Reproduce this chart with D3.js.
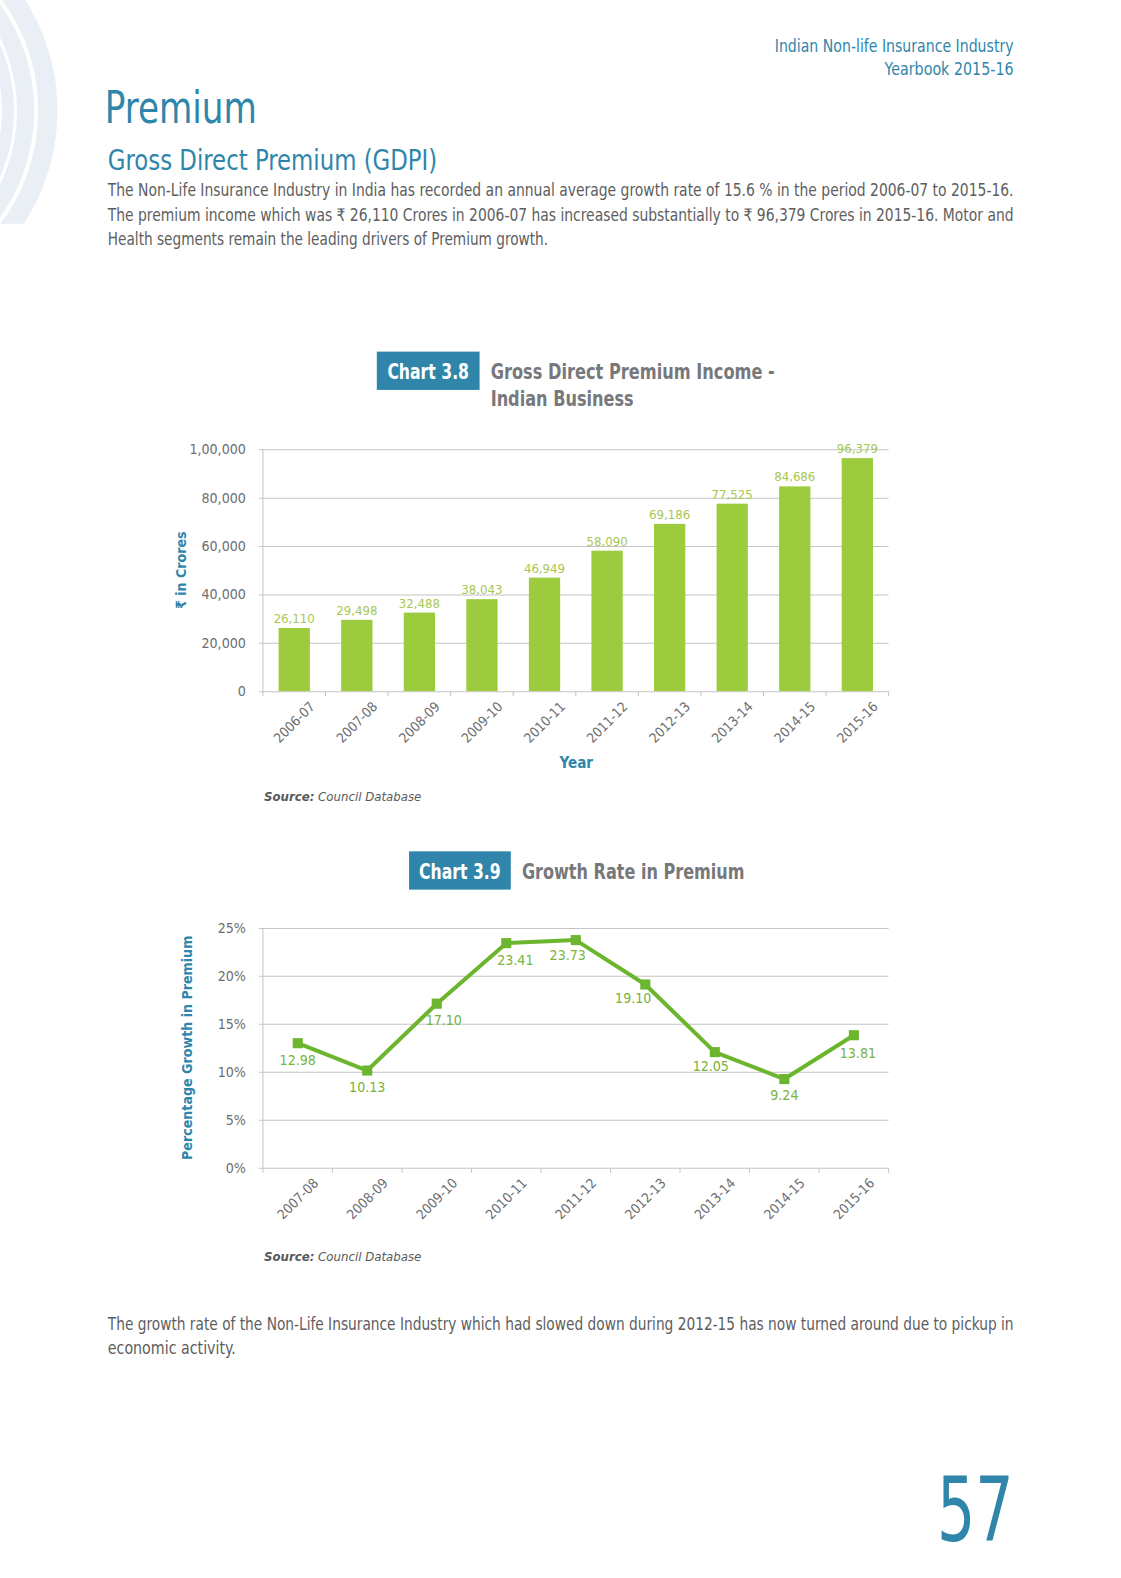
<!DOCTYPE html>
<html>
<head>
<meta charset="utf-8">
<script src="https://cdn.jsdelivr.net/npm/d3@7"></script>
<style>
  html, body { margin: 0; padding: 0; background: #fff; overflow: hidden; }
  svg { display: block; }
  svg text { font-family: 'Liberation Sans Narrow', 'DejaVu Sans Condensed', 'Liberation Sans', sans-serif; font-stretch: condensed; }
</style>
</head>
<body>
<script>
// page size
var w = 1121;
var h = 1578;

// chart 3.8 data
var years = ["2006-07", "2007-08", "2008-09", "2009-10", "2010-11", "2011-12", "2012-13", "2013-14", "2014-15", "2015-16"];
var premium = [26110, 29498, 32488, 38043, 46949, 58090, 69186, 77525, 84686, 96379];
var premiumTicks = [0, 20000, 40000, 60000, 80000, 100000];

// chart 3.9 data
var growthYears = ["2007-08", "2008-09", "2009-10", "2010-11", "2011-12", "2012-13", "2013-14", "2014-15", "2015-16"];
var growth = [12.98, 10.13, 17.10, 23.41, 23.73, 19.10, 12.05, 9.24, 13.81];
var growthTicks = [0, 5, 10, 15, 20, 25];

// label nudges for the growth values (dx, dy from the point)
var growthLabelShift = [[0, 22], [0, 21], [7, 21], [9, 22], [-8, 20], [-12, 18], [-4, 19], [0, 21], [4, 23]];

var teal = "#2f86aa";
var grey = "#5d5e60";
var gridGrey = "#c4c4c4";
var barGreen = "#9ccb3d";
var barLabel = "#a6c84f";
var lineGreen = "#6cb52f";
var lineLabel = "#78b33c";

var svgRoot = d3.select("body")
            .append("svg")
            .attr("width", w)
            .attr("height", h);
// layout was measured on a slightly smaller copy of the page
var svg = svgRoot.append("g").attr("transform", "scale(1.0075)");

// decorative rings top left
var deco = svg.append("g");
deco.append("clipPath").attr("id", "decoClip")
    .append("rect").attr("x", 0).attr("y", 0).attr("width", 80).attr("height", 222);
var rings = [[195.5, 19], [173.5, 17], [156, 12]];
deco.selectAll("circle")
    .data(rings)
    .enter()
    .append("circle")
    .attr("cx", -148)
    .attr("cy", 110)
    .attr("r", function(d) { return d[0]; })
    .attr("fill", "none")
    .attr("stroke", "#e9eff5")
    .attr("stroke-width", function(d) { return d[1]; })
    .attr("clip-path", "url(#decoClip)");

// header
function txt(x, y, s, size, color, opts) {
    opts = opts || {};
    var t = svg.append("text")
        .attr("x", x)
        .attr("y", y)
        .attr("font-size", size)
        .attr("fill", color)
        .attr("text-anchor", opts.anchor || "start")
        .attr("font-weight", opts.weight || "normal")
        .text(s);
    if (opts.len) {
        t.attr("textLength", opts.len).attr("lengthAdjust", "spacingAndGlyphs");
    }
    return t;
}

txt(1006, 52, "Indian Non-life Insurance Industry", 17, teal, {anchor: "end", len: 237});
txt(1006, 74, "Yearbook 2015-16", 17, teal, {anchor: "end", len: 128});
txt(104, 122, "Premium", 44, teal, {len: 151});
txt(107, 169, "Gross Direct Premium (GDPI)", 29, teal, {len: 327});

txt(107, 195, "The Non-Life Insurance Industry in India has recorded an annual average growth rate of 15.6 % in the period 2006-07 to 2015-16.", 17, grey, {len: 899});
txt(107, 219, "The premium income which was \u20b9 26,110 Crores in 2006-07 has increased substantially to \u20b9 96,379 Crores in 2015-16. Motor and", 17, grey, {len: 899});
txt(107, 243, "Health segments remain the leading drivers of Premium growth.", 17, grey, {len: 437});

// ---------- Chart 3.8 ----------
svg.append("rect")
   .attr("x", 374).attr("y", 349).attr("width", 102).attr("height", 38)
   .attr("fill", teal);
txt(425, 376, "Chart 3.8", 21, "#fff", {anchor: "middle", weight: "bold", len: 81});
txt(487, 376, "Gross Direct Premium Income -", 21, "#77787b", {weight: "bold", len: 282});
txt(487, 403, "Indian Business", 21, "#77787b", {weight: "bold", len: 142});

var x1 = d3.scaleBand()
           .domain(years)
           .range([261, 882])
           .paddingInner(0.5)
           .paddingOuter(0.25);
var y1 = d3.scaleLinear()
           .domain([0, 100000])
           .range([686, 446]);

function indian(v) {
    var s = String(v);
    if (s.length <= 3) return s;
    var rest = s.slice(0, -3);
    return rest.replace(/\B(?=(\d{2})+(?!\d))/g, ",") + "," + s.slice(-3);
}

var c1 = svg.append("g");
c1.append("g")
  .attr("transform", "translate(261,0)")
  .call(d3.axisLeft(y1).tickValues(premiumTicks).tickSize(-621).tickPadding(17).tickFormat(indian))
  .call(function(g) {
      g.select(".domain").remove();
      g.selectAll(".tick line").attr("stroke", gridGrey).attr("x1", -4);
      g.selectAll(".tick text").attr("fill", "#6d6e71").attr("font-size", 14)
       .style("font-family", "'Liberation Sans Narrow', 'DejaVu Sans Condensed', sans-serif");
  });
c1.append("line")
  .attr("x1", 261).attr("x2", 261).attr("y1", 446).attr("y2", 686)
  .attr("stroke", gridGrey);

// tick marks at band edges
var step1 = x1.step();
c1.selectAll(".edge")
  .data(d3.range(years.length + 1))
  .enter()
  .append("line")
  .attr("x1", function(i) { return 261 + i * step1; })
  .attr("x2", function(i) { return 261 + i * step1; })
  .attr("y1", 686).attr("y2", 691)
  .attr("stroke", gridGrey);

c1.selectAll(".bar")
  .data(premium)
  .enter()
  .append("rect")
  .attr("x", function(d, i) { return x1(years[i]); })
  .attr("y", function(d) { return y1(d); })
  .attr("width", x1.bandwidth())
  .attr("height", function(d) { return 686 - y1(d); })
  .attr("fill", barGreen);

c1.selectAll(".val")
  .data(premium)
  .enter()
  .append("text")
  .text(function(d) { return indian(d); })
  .attr("x", function(d, i) { return x1(years[i]) + x1.bandwidth() / 2; })
  .attr("y", function(d) { return y1(d) - 5; })
  .attr("font-size", 13)
  .attr("fill", barLabel)
  .attr("text-anchor", "middle");

c1.selectAll(".xlab")
  .data(years)
  .enter()
  .append("text")
  .text(function(d) { return d; })
  .attr("transform", function(d) {
      return "translate(" + (x1(d) + x1.bandwidth() / 2 + 14) + ",695) rotate(-45)";
  })
  .attr("font-size", 13.5)
  .attr("fill", "#6d6e71")
  .attr("text-anchor", "end")
  .attr("dominant-baseline", "hanging");

txt(572, 762, "Year", 15, teal, {anchor: "middle", weight: "bold"});
svg.append("text")
   .attr("transform", "translate(185,566) rotate(-90)")
   .attr("text-anchor", "middle")
   .attr("font-size", 14)
   .attr("font-weight", "bold")
   .attr("fill", teal)
   .text("\u20b9 in Crores");

function source(y) {
    var t = svg.append("text")
       .attr("x", 262).attr("y", y)
       .attr("font-size", 13)
       .attr("font-style", "italic")
       .attr("fill", "#58595b");
    t.append("tspan").attr("font-weight", "bold").text("Source:");
    t.append("tspan").text(" Council Database");
}
source(795);

// ---------- Chart 3.9 ----------
svg.append("rect")
   .attr("x", 406).attr("y", 845).attr("width", 101).attr("height", 38)
   .attr("fill", teal);
txt(456.5, 872, "Chart 3.9", 21, "#fff", {anchor: "middle", weight: "bold", len: 81});
txt(518, 872, "Growth Rate in Premium", 21, "#77787b", {weight: "bold", len: 221});

var x2 = d3.scaleBand()
           .domain(growthYears)
           .range([261, 882]);
var y2 = d3.scaleLinear()
           .domain([0, 25])
           .range([1159, 921]);

var c2 = svg.append("g");
c2.append("g")
  .attr("transform", "translate(261,0)")
  .call(d3.axisLeft(y2).tickValues(growthTicks).tickSize(-621).tickPadding(17).tickFormat(function(d) { return d + "%"; }))
  .call(function(g) {
      g.select(".domain").remove();
      g.selectAll(".tick line").attr("stroke", gridGrey).attr("x1", -4);
      g.selectAll(".tick text").attr("fill", "#6d6e71").attr("font-size", 14)
       .style("font-family", "'Liberation Sans Narrow', 'DejaVu Sans Condensed', sans-serif");
  });
c2.append("line")
  .attr("x1", 261).attr("x2", 261).attr("y1", 921).attr("y2", 1159)
  .attr("stroke", gridGrey);

var step2 = x2.step();
c2.selectAll(".edge")
  .data(d3.range(growthYears.length + 1))
  .enter()
  .append("line")
  .attr("x1", function(i) { return 261 + i * step2; })
  .attr("x2", function(i) { return 261 + i * step2; })
  .attr("y1", 1159).attr("y2", 1164)
  .attr("stroke", gridGrey);

var line = d3.line()
  .x(function(d, i) { return x2(growthYears[i]) + x2.bandwidth() / 2; })
  .y(function(d) { return y2(d); });

c2.append("path")
  .datum(growth)
  .attr("d", line)
  .attr("fill", "none")
  .attr("stroke", lineGreen)
  .attr("stroke-width", 4)
  .attr("stroke-linejoin", "round");

c2.selectAll(".pt")
  .data(growth)
  .enter()
  .append("rect")
  .attr("x", function(d, i) { return x2(growthYears[i]) + x2.bandwidth() / 2 - 5; })
  .attr("y", function(d) { return y2(d) - 5; })
  .attr("width", 10)
  .attr("height", 10)
  .attr("fill", lineGreen);

c2.selectAll(".val")
  .data(growth)
  .enter()
  .append("text")
  .text(function(d) { return d.toFixed(2); })
  .attr("x", function(d, i) { return x2(growthYears[i]) + x2.bandwidth() / 2 + growthLabelShift[i][0]; })
  .attr("y", function(d, i) { return y2(d) + growthLabelShift[i][1]; })
  .attr("font-size", 14)
  .attr("fill", lineLabel)
  .attr("text-anchor", "middle");

c2.selectAll(".xlab")
  .data(growthYears)
  .enter()
  .append("text")
  .text(function(d) { return d; })
  .attr("transform", function(d) {
      return "translate(" + (x2(d) + x2.bandwidth() / 2 + 14) + ",1168) rotate(-45)";
  })
  .attr("font-size", 13.5)
  .attr("fill", "#6d6e71")
  .attr("text-anchor", "end")
  .attr("dominant-baseline", "hanging");

svg.append("text")
   .attr("transform", "translate(191,1040) rotate(-90)")
   .attr("text-anchor", "middle")
   .attr("font-size", 14)
   .attr("font-weight", "bold")
   .attr("fill", teal)
   .text("Percentage Growth in Premium");

source(1252);

// closing text
txt(107, 1320, "The growth rate of the Non-Life Insurance Industry which had slowed down during 2012-15 has now turned around due to pickup in", 17, grey, {len: 899});
txt(107, 1344, "economic activity.", 17, grey, {len: 127});

txt(1006, 1530, "57", 88, teal, {anchor: "end", len: 76});
</script>
</body>
</html>
